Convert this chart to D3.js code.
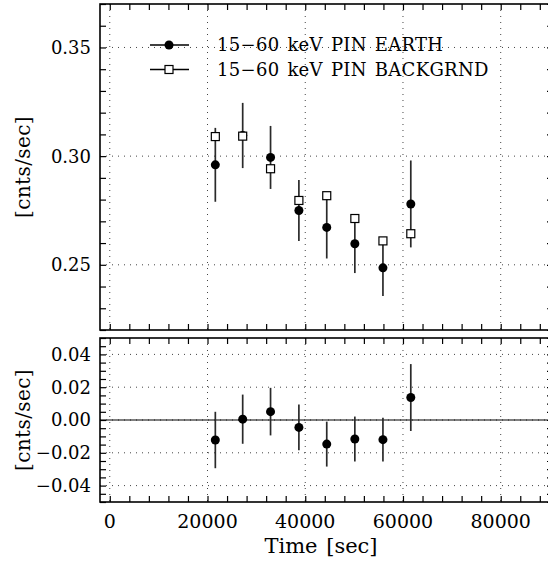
<!DOCTYPE html>
<html lang="en">
<head>
<meta charset="utf-8">
<script src="https://cdn.jsdelivr.net/npm/d3@7"></script>
<style>
  body { margin: 0; background: #fff; }
  text { font-family: "DejaVu Serif", serif; fill: #000; }
  .frame { fill: none; stroke: #000; stroke-width: 1.6; }
  .grid { stroke: #444; stroke-width: 1; stroke-dasharray: 1,5; }
  .tk line { stroke: #000; stroke-width: 1.2; }
  .tk path { display: none; }
  .err { stroke: #2a2a2a; stroke-width: 1.7; }
</style>
</head>
<body>
<div id="chart"></div>
<script>
// observation times [sec]
var times = [21600, 27200, 32900, 38700, 44400, 50150, 55900, 61600];
// 15-60 keV PIN earth rate and error
var earth    = [0.296, 0.3095, 0.2994, 0.275, 0.2672, 0.2597, 0.2486, 0.278];
var earthErr = [0.017, 0.015, 0.0145, 0.014, 0.0143, 0.0135, 0.013, 0.020];
// 15-60 keV PIN background rate
var bkg      = [0.309, 0.3092, 0.2942, 0.2796, 0.2818, 0.2713, 0.261, 0.2643];
// residual earth - background
var resid    = [-0.0122, 0.0005, 0.0051, -0.0045, -0.0147, -0.0116, -0.012, 0.0137];
var residErr = [0.0172, 0.015, 0.0145, 0.0139, 0.0137, 0.0137, 0.0133, 0.0204];

var xTicks = [0, 20000, 40000, 60000, 80000];
var topYTicks = [0.25, 0.30, 0.35];
var botYTicks = [-0.04, -0.02, 0.00, 0.02, 0.04];
var legendLabels = ["15\u221260 keV PIN EARTH", "15\u221260 keV PIN BACKGRND"];

var W = 548, H = 561;
var L = 100, R = 553;
var top1 = 4, bot1 = 330, top2 = 338, bot2 = 502;

var svg = d3.select("#chart").append("svg")
    .attr("width", W).attr("height", H);
svg.append("rect").attr("width", W).attr("height", H).attr("fill", "#fff");

var x = d3.scaleLinear().domain([-2000, 90700]).range([L, R]);
var y1 = d3.scaleLinear().domain([0.22, 0.37]).range([bot1, top1]);
var y2 = d3.scaleLinear().domain([-0.05, 0.05]).range([bot2, top2]);

var xMinor = d3.range(0, 90001, 4000);

function fmtY(d) {
    var s = d3.format(".2f")(Math.abs(d));
    return (d < -1e-9 ? "\u2212" : "") + s;
}

function panel(y, yt, yMinor, t, b) {
    var g = svg.append("g");
    // grid
    g.selectAll(".gx").data(xTicks).enter().append("line")
        .attr("class", "grid")
        .attr("x1", d => x(d)).attr("x2", d => x(d))
        .attr("y1", t).attr("y2", b);
    g.selectAll(".gy").data(yt).enter().append("line")
        .attr("class", "grid")
        .attr("x1", L).attr("x2", R)
        .attr("y1", d => y(d)).attr("y2", d => y(d));
    // ticks, all pointing inwards
    g.append("g").attr("class", "tk").attr("transform", "translate(0," + b + ")")
        .call(d3.axisBottom(x).tickValues(xMinor).tickSize(-6).tickFormat(""));
    g.append("g").attr("class", "tk").attr("transform", "translate(0," + t + ")")
        .call(d3.axisTop(x).tickValues(xMinor).tickSize(-6).tickFormat(""));
    g.append("g").attr("class", "tk").attr("transform", "translate(" + L + ",0)")
        .call(d3.axisLeft(y).tickValues(yMinor).tickSize(-6).tickFormat(""));
    g.append("g").attr("class", "tk").attr("transform", "translate(" + R + ",0)")
        .call(d3.axisRight(y).tickValues(yMinor).tickSize(-6).tickFormat(""));
    // y labels
    g.selectAll(".yl").data(yt).enter().append("text")
        .attr("x", 91).attr("y", d => y(d)).attr("dy", "0.36em")
        .attr("text-anchor", "end").style("font-size", "18px")
        .text(fmtY);
    // y title
    g.append("text")
        .attr("transform", "translate(30," + ((t + b) / 2) + ") rotate(-90)")
        .attr("text-anchor", "middle").style("font-size", "20px")
        .style("letter-spacing", "0.4px")
        .text("[cnts/sec]");
    g.append("rect").attr("class", "frame")
        .attr("x", L).attr("y", t).attr("width", R - L).attr("height", b - t);
    return g;
}

var p1 = panel(y1, topYTicks, d3.range(0.22, 0.3701, 0.01), top1, bot1);
var p2 = panel(y2, botYTicks, d3.range(-0.05, 0.0501, 0.005), top2, bot2);

// top panel: error bars, background squares, earth circles
p1.selectAll(".e1").data(times).enter().append("line")
    .attr("class", "err")
    .attr("x1", d => x(d)).attr("x2", d => x(d))
    .attr("y1", (d, i) => y1(earth[i] - earthErr[i]))
    .attr("y2", (d, i) => y1(earth[i] + earthErr[i]));
p1.selectAll(".c1").data(times).enter().append("circle")
    .attr("cx", d => x(d)).attr("cy", (d, i) => y1(earth[i]))
    .attr("r", 4.5).attr("fill", "#000");
p1.selectAll(".s1").data(times).enter().append("rect")
    .attr("x", d => x(d) - 4).attr("y", (d, i) => y1(bkg[i]) - 4)
    .attr("width", 8).attr("height", 8)
    .attr("fill", "#fff").attr("stroke", "#000").attr("stroke-width", 1.2);

// legend
var lg = p1.append("g");
[0, 1].forEach(function(i) {
    var ly = 45 + i * 24.5;
    lg.append("line").attr("x1", 150).attr("x2", 189).attr("y1", ly).attr("y2", ly)
        .attr("stroke", "#000").attr("stroke-width", 1.4);
    if (i === 0) {
        lg.append("circle").attr("cx", 169).attr("cy", ly).attr("r", 4.5).attr("fill", "#000");
    } else {
        lg.append("rect").attr("x", 165).attr("y", ly - 4).attr("width", 8).attr("height", 8)
            .attr("fill", "#fff").attr("stroke", "#000").attr("stroke-width", 1.2);
    }
    lg.append("text").attr("x", 217).attr("y", ly).attr("dy", "0.36em")
        .style("font-size", "18px").style("letter-spacing", "0.3px")
        .style("word-spacing", "2px")
        .text(legendLabels[i]);
});

// bottom panel: zero line, residuals
p2.append("line").attr("x1", L).attr("x2", R).attr("y1", y2(0)).attr("y2", y2(0))
    .attr("stroke", "#000").attr("stroke-width", 1.2);
p2.selectAll(".e2").data(times).enter().append("line")
    .attr("class", "err")
    .attr("x1", d => x(d)).attr("x2", d => x(d))
    .attr("y1", (d, i) => y2(resid[i] - residErr[i]))
    .attr("y2", (d, i) => y2(resid[i] + residErr[i]));
p2.selectAll(".c2").data(times).enter().append("circle")
    .attr("cx", d => x(d)).attr("cy", (d, i) => y2(resid[i]))
    .attr("r", 4.5).attr("fill", "#000");

// x labels
svg.selectAll(".xl").data(xTicks).enter().append("text")
    .attr("x", d => x(d)).attr("y", 528)
    .attr("text-anchor", "middle").style("font-size", "19px")
    .text(d => d);
svg.append("text").attr("x", 321).attr("y", 553)
    .attr("text-anchor", "middle").style("font-size", "21px")
    .style("word-spacing", "2px")
    .text("Time [sec]");
</script>
</body>
</html>
